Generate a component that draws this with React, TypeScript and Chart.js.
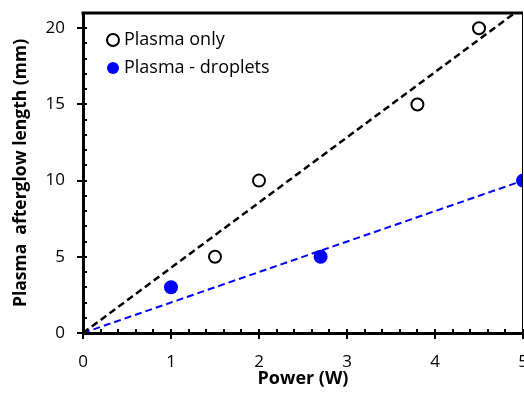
import React, { useEffect, useRef } from "react";
import { Chart, registerables } from "chart.js";

Chart.register(...registerables);

const FONT = "'Open Sans', Lato, sans-serif";

const plasmaOnlyX = [1.5, 2, 3.8, 4.5];
const plasmaOnlyY = [5, 10, 15, 20];
const dropletsX = [1, 2.7, 5];
const dropletsY = [3, 5, 10];
const trendOnlyX = [0, 5];
const trendOnlyY = [0, 21.4];
const trendDropX = [0, 5];
const trendDropY = [0, 10];
const xTickLabels = [0, 1, 2, 3, 4, 5];
const yTickLabels = [0, 5, 10, 15, 20];

const pts = (xs: number[], ys: number[]) => xs.map((x, i) => ({ x, y: ys[i] }));

const isLabel = (v: number, list: number[]) => list.some((l) => Math.abs(l - v) < 1e-6);

const framePlugin = {
  id: "frame",
  afterDraw(chart: any) {
    const { ctx, chartArea } = chart;
    const { left, right, top, bottom } = chartArea;
    ctx.save();
    ctx.strokeStyle = "#000";
    ctx.lineWidth = 3;
    ctx.beginPath();
    ctx.moveTo(left - 1.5, top);
    ctx.lineTo(right, top);
    ctx.stroke();
    ctx.lineWidth = 1;
    ctx.beginPath();
    ctx.moveTo(right - 0.5, top);
    ctx.lineTo(right - 0.5, bottom);
    ctx.stroke();
    ctx.lineWidth = 2;
    const xs = chart.scales.x;
    xs.ticks.forEach((t: any) => {
      const px = Math.round(xs.getPixelForValue(t.value));
      const major = isLabel(t.value, xTickLabels);
      ctx.beginPath();
      ctx.moveTo(px, major ? bottom + 6 : bottom);
      ctx.lineTo(px, bottom - 4);
      ctx.stroke();
    });
    const ys = chart.scales.y;
    ys.ticks.forEach((t: any) => {
      if (t.value > 20.5) return;
      const py = Math.round(ys.getPixelForValue(t.value));
      const major = isLabel(t.value, yTickLabels);
      ctx.beginPath();
      ctx.moveTo(major ? left - 6 : left, py);
      ctx.lineTo(left + 4, py);
      ctx.stroke();
    });
    ctx.restore();
  },
};

const legendPlugin = {
  id: "innerLegend",
  afterDraw(chart: any) {
    const { ctx, chartArea } = chart;
    const items = chart.data.datasets.filter((d: any) => d.label);
    ctx.save();
    ctx.font = `18px ${FONT}`;
    ctx.textBaseline = "middle";
    ctx.textAlign = "left";
    items.forEach((d: any, i: number) => {
      const cx = chartArea.left + 30;
      const cy = chartArea.top + 27 + i * 28;
      ctx.beginPath();
      ctx.arc(cx, cy, 6, 0, Math.PI * 2);
      ctx.fillStyle = d.pointBackgroundColor;
      ctx.fill();
      ctx.lineWidth = d.pointBorderWidth;
      ctx.strokeStyle = d.pointBorderColor;
      if (d.pointBorderWidth) ctx.stroke();
      ctx.fillStyle = "#000";
      ctx.fillText(d.label, cx + 11, cy);
    });
    ctx.restore();
  },
};

export default function App() {
  const ref = useRef<HTMLCanvasElement>(null);
  useEffect(() => {
    if (!ref.current) return;
    const chart = new Chart(ref.current, {
      type: "scatter",
      data: {
        datasets: [
          {
            label: "Plasma only",
            data: pts(plasmaOnlyX, plasmaOnlyY),
            pointRadius: 6,
            pointBorderWidth: 2,
            pointBorderColor: "#000",
            pointBackgroundColor: "#fff",
            order: 0,
          },
          {
            label: "Plasma - droplets",
            data: pts(dropletsX, dropletsY),
            pointRadius: 7,
            pointBorderWidth: 0,
            pointBorderColor: "#0000ff",
            pointBackgroundColor: "#0000ff",
            order: 0,
          },
          {
            label: "",
            data: pts(trendOnlyX, trendOnlyY),
            showLine: true,
            borderColor: "#000",
            borderWidth: 2.5,
            borderDash: [7, 4],
            pointRadius: 0,
            order: 1,
          },
          {
            label: "",
            data: pts(trendDropX, trendDropY),
            showLine: true,
            borderColor: "#0000ff",
            borderWidth: 2,
            borderDash: [7, 4],
            pointRadius: 0,
            order: 1,
          },
        ],
      },
      options: {
        animation: false,
        responsive: false,
        layout: { autoPadding: false, padding: { top: 13, right: 1, left: 0, bottom: 0 } },
        plugins: { legend: { display: false }, tooltip: { enabled: false } },
        scales: {
          x: {
            type: "linear",
            min: 0,
            max: 5,
            ticks: {
              stepSize: 0.2,
              autoSkip: false,
              maxRotation: 0,
              padding: 19,
              color: "#000",
              font: { family: FONT, size: 17 },
              callback: (v: any) => (isLabel(Number(v), xTickLabels) ? String(Math.round(Number(v))) : ""),
            },
            grid: { display: true, drawOnChartArea: false, drawTicks: false },
            border: { display: true, width: 3, color: "#000" },
            title: {
              display: true,
              text: "Power (W)",
              color: "#000",
              font: { family: FONT, size: 18, weight: "bold" },
              padding: { top: 0, bottom: 9 },
            },
            afterFit: (s: any) => {
              s.height = 66;
              s.paddingLeft = 0;
              s.paddingRight = 0;
            },
          },
          y: {
            type: "linear",
            min: 0,
            max: 21,
            ticks: {
              stepSize: 1,
              autoSkip: false,
              padding: 18,
              color: "#000",
              font: { family: FONT, size: 17 },
              callback: (v: any) => (isLabel(Number(v), yTickLabels) ? String(Math.round(Number(v))) : ""),
            },
            grid: { display: true, drawOnChartArea: false, drawTicks: false },
            border: { display: true, width: 3, color: "#000" },
            title: {
              display: true,
              text: "Plasma  afterglow length (mm)",
              color: "#000",
              font: { family: FONT, size: 17.5, weight: "bold" },
              padding: { top: 11, bottom: 0 },
            },
            afterFit: (s: any) => {
              s.width = 83;
              s.paddingTop = 0;
              s.paddingBottom = 0;
            },
          },
        },
      },
      plugins: [framePlugin, legendPlugin],
    });
    return () => chart.destroy();
  }, []);
  return (
    <div style={{ position: "fixed", left: 0, top: 0, width: 524, height: 399, overflow: "hidden", background: "#fff" }}>
      <canvas ref={ref} width={524} height={399} />
    </div>
  );
}
